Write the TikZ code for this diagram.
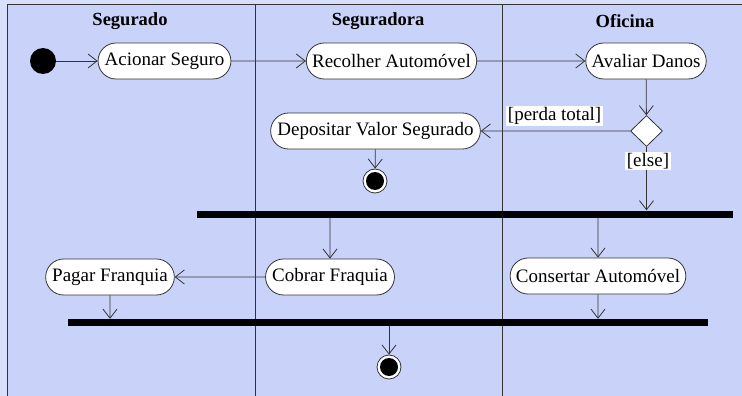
\documentclass[tikz,border=0pt]{standalone}
\usepackage{fontspec}
\setmainfont{Liberation Serif}
\usetikzlibrary{arrows.meta,shapes.misc,shapes.geometric}
\definecolor{bgblue}{HTML}{C9D3FA}
\definecolor{bgout}{HTML}{D8DFFB}
\definecolor{ink}{HTML}{333333}
\begin{document}
\begin{tikzpicture}[x=1pt,y=-1pt,
 txt/.style={font=\fontsize{19}{21}\selectfont},
 act/.style={txt, rounded rectangle, draw=ink, fill=white, minimum height=36pt, inner xsep=4.5pt, line width=0.8pt},
 flow/.style={draw=ink, line width=0.8pt, -{Straight Barb[length=9pt,width=14pt]}},
 bar/.style={fill=black, draw=none, rectangle, inner sep=0pt, minimum height=7pt},
 lanehead/.style={font=\fontsize{18.5}{20}\selectfont\bfseries},
 guard/.style={txt, fill=white, inner sep=1.5pt},
 lanesep/.style={draw=ink, line width=0.9pt},
 startnode/.style={circle, fill=black, minimum size=26pt, inner sep=0pt},
 endnode/.style={circle, draw=ink, fill=white, minimum size=24pt, inner sep=0pt, line width=0.8pt,
   path picture={\fill[black] (path picture bounding box.center) circle (9pt);}},
 decision/.style={diamond, draw=ink, fill=white, minimum width=32pt, minimum height=31pt, inner sep=0pt, line width=0.8pt}
]
\useasboundingbox (0,0) rectangle (742,396);
\fill[bgout] (0,0) rectangle (742,396);
\fill[bgblue] (7,4) rectangle (742,396);
\draw[lanesep] (7,396) -- (7,4) -- (742,4);
\draw[lanesep] (255,4) -- (255,396);
\draw[lanesep] (502,4) -- (502,396);

\node[lanehead] (h1) at (130,21) {Segurado};
\node[lanehead] (h2) at (378,21) {Seguradora};
\node[lanehead] (h3) at (625,21) {Oficina};

\node[startnode] (start) at (43,61) {};
\node[act] (acionar) at (164.5,61) {Acionar Seguro};
\node[act] (recolher) at (391.5,61) {Recolher Automóvel};
\node[act] (avaliar) at (646,61) {Avaliar Danos};
\node[decision] (dec) at (646.5,131) {};
\node[act] (depositar) at (375.5,131) {Depositar Valor Segurado};
\node[endnode] (fim1) at (375,181) {};
\node[bar, minimum width=536pt] (f1) at (465,214) {};
\node[act] (cobrar) at (330,277) {Cobrar Fraquia};
\node[act] (consertar) at (598,276) {Consertar Automóvel};
\node[act] (pagar) at (110,277) {Pagar Franquia};
\node[bar, minimum width=640pt] (f2) at (388,322.5) {};
\node[endnode] (fim2) at (389,367) {};

\draw[flow] (start) -- (acionar);
\draw[flow] (acionar) -- (recolher);
\draw[flow] (recolher) -- (avaliar);
\draw[flow] (avaliar) -- (dec);
\draw[flow] (dec) -- (depositar);
\node[guard, anchor=south east] (lperda) at (603,126) {[perda total]};
\draw[flow] (depositar) -- (fim1);
\draw[flow] (dec) -- (dec |- f1.north);
\node[guard] (lelse) at (648,161) {[else]};
\draw[flow] (f1.south -| cobrar) -- (cobrar);
\draw[flow] (f1.south -| consertar) -- (consertar);
\draw[flow] (cobrar) -- (pagar);
\draw[flow] (pagar) -- (pagar |- f2.north);
\draw[flow] (consertar) -- (consertar |- f2.north);
\draw[flow] (f2.south -| fim2) -- (fim2);
\end{tikzpicture}
\end{document}
